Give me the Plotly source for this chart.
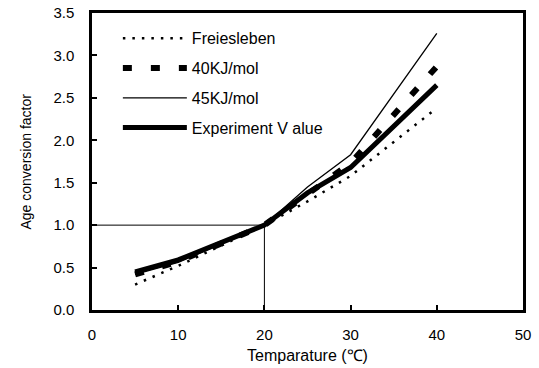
import plotly.graph_objects as go

temps = [5, 10, 20, 25, 30, 40]
freiesleben = [0.30, 0.52, 1.00, 1.28, 1.58, 2.38]
kj40 = [0.42, 0.57, 1.00, 1.36, 1.73, 2.87]
kj45 = [0.42, 0.56, 1.00, 1.45, 1.83, 3.26]
experiment = [0.45, 0.59, 1.00, 1.38, 1.68, 2.65]

ref_x = [0, 20, 20]
ref_y = [1.0, 1.0, 0.0]

x_ticks = [0, 10, 20, 30, 40, 50]
y_ticks = [0.0, 0.5, 1.0, 1.5, 2.0, 2.5, 3.0, 3.5]

FONT = "Liberation Sans, Arial, sans-serif"

fig = go.Figure()
fig.add_trace(go.Scatter(x=ref_x, y=ref_y, mode="lines", line=dict(color="black", width=1),
                         showlegend=False, hoverinfo="skip"))
fig.add_trace(go.Scatter(x=temps, y=freiesleben, mode="lines", name="Freiesleben",
                         legendgroup="a",
                         line=dict(color="black", width=2.5, dash="2.5px,7px")))
fig.add_trace(go.Scatter(x=temps, y=kj40, mode="lines", name="40KJ/mol",
                         legendgroup="b",
                         line=dict(color="black", width=6, dash="9px,19px")))
fig.add_trace(go.Scatter(x=temps, y=kj45, mode="lines", name="45KJ/mol",
                         legendgroup="c",
                         line=dict(color="black", width=1.3)))
fig.add_trace(go.Scatter(x=temps, y=experiment, mode="lines", name="Experiment V alue",
                         legendgroup="d",
                         line=dict(color="black", width=5)))

fig.update_layout(
    width=539, height=368,
    margin=dict(l=92, r=16, t=13, b=58, autoexpand=False),
    paper_bgcolor="white", plot_bgcolor="white",
    font=dict(family=FONT, color="black", size=14),
    showlegend=True,
    legend=dict(x=0.06, y=0.972, xanchor="left", yanchor="top",
                bgcolor="rgba(0,0,0,0)", itemwidth=64, tracegroupgap=6,
                font=dict(size=16, color="black")),
    xaxis=dict(range=[0, 50], tickvals=x_ticks, ticktext=[str(v) for v in x_ticks],
               ticks="inside", ticklen=5, tickwidth=1.5, tickcolor="black",
               showgrid=False, zeroline=False, showline=True, linecolor="black",
               linewidth=2.5, mirror=True, automargin=False,
               ticklabelstandoff=9, tickfont=dict(size=15)),
    yaxis=dict(range=[0, 3.5], tickvals=y_ticks, ticktext=[f"{v:.1f}" for v in y_ticks],
               ticks="inside", ticklen=5, tickwidth=1.5, tickcolor="black",
               showgrid=False, zeroline=False, showline=True, linecolor="black",
               linewidth=2.5, mirror=True, automargin=False,
               ticklabelstandoff=12, tickfont=dict(size=15)),
    annotations=[
        dict(text="Temparature (℃)", xref="paper", yref="paper", x=0.5, y=0,
             yshift=-45, xanchor="center", yanchor="middle", showarrow=False,
             font=dict(size=16)),
        dict(text="Age conversion factor", xref="paper", yref="paper", x=0, y=0.5,
             xshift=-67, xanchor="center", yanchor="middle", showarrow=False,
             textangle=-90, font=dict(size=14)),
    ],
)

fig.write_html("out.html")
